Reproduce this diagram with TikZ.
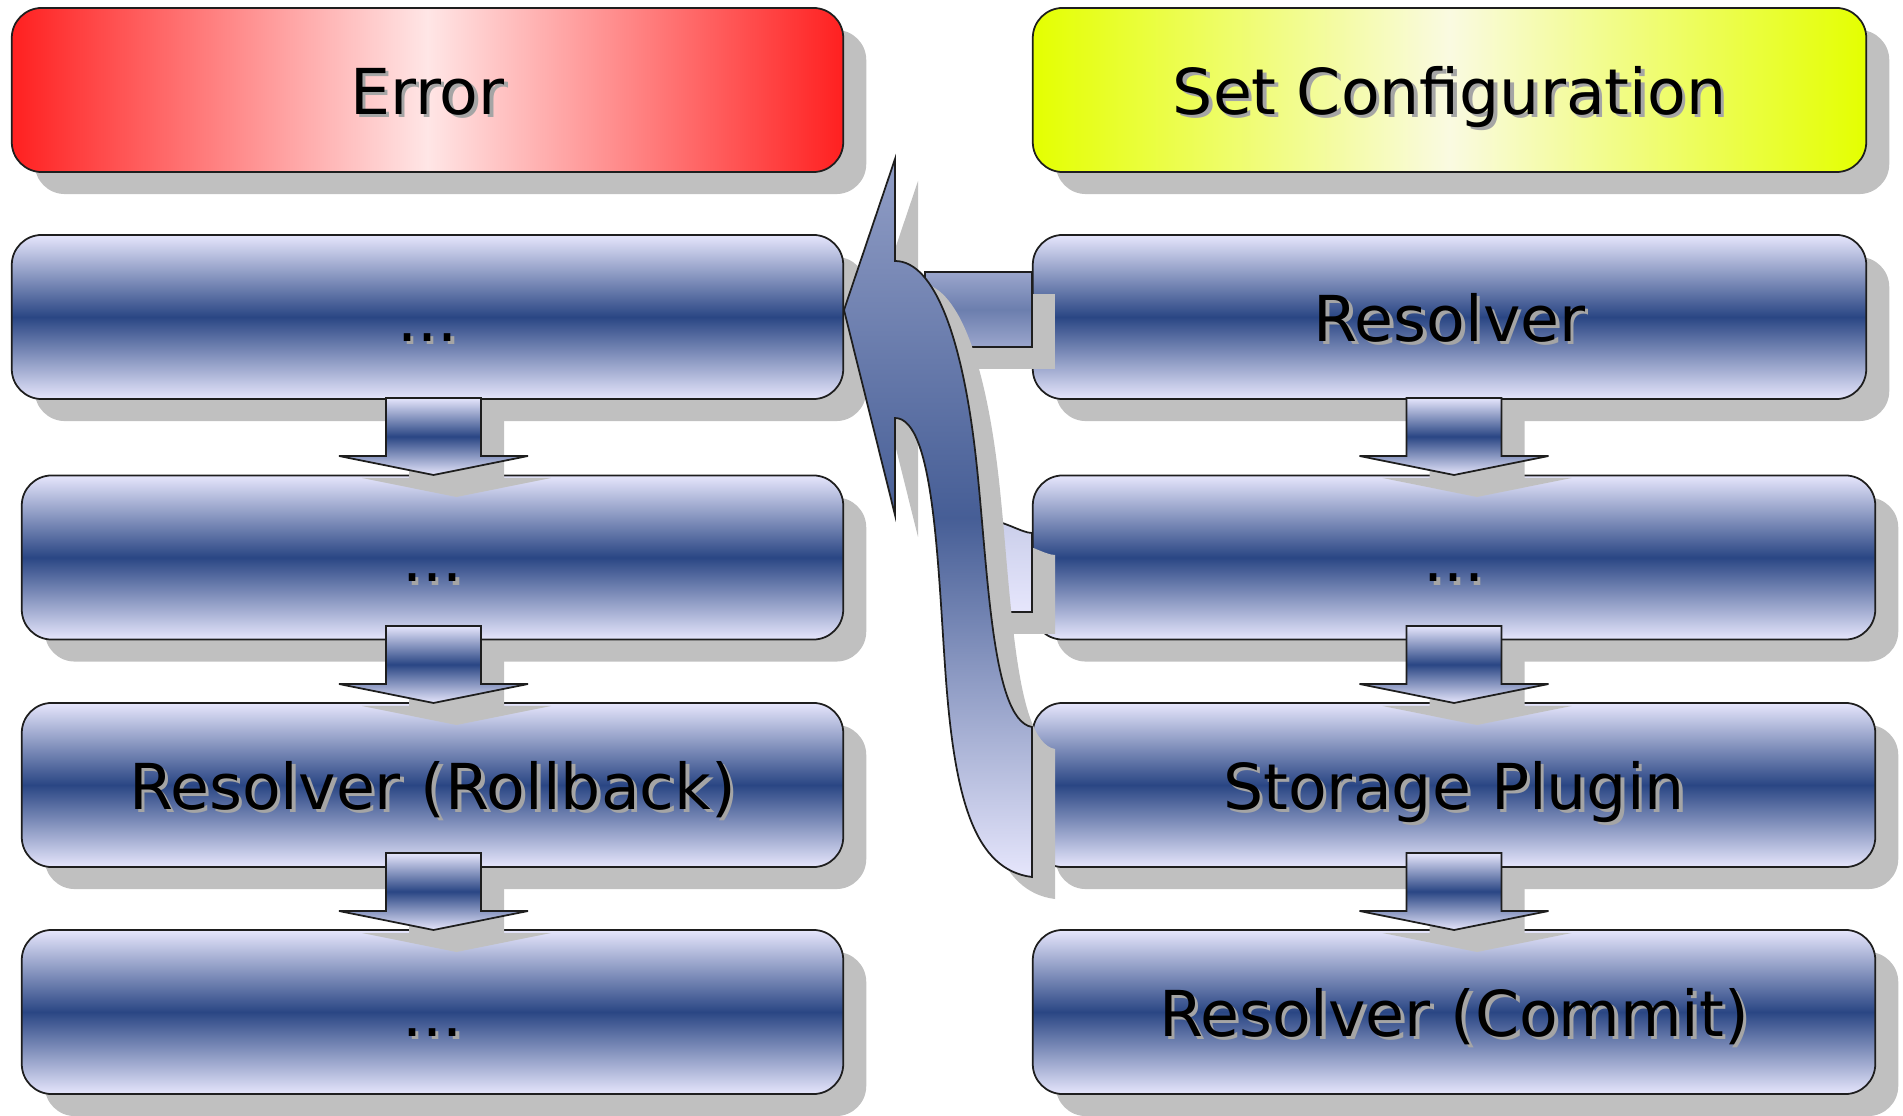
\documentclass[tikz,border=0pt]{standalone}
\usepackage{fontspec}
\setmainfont{DejaVu Sans}
\usetikzlibrary{shadows}

\definecolor{boxlight}{RGB}{230,230,252}
\definecolor{boxdark}{RGB}{42,70,132}
\definecolor{errred}{RGB}{255,32,32}
\definecolor{errpale}{RGB}{255,230,230}
\definecolor{cfgyellow}{RGB}{228,255,0}
\definecolor{cfgpale}{RGB}{250,250,225}
\definecolor{shadowgray}{RGB}{192,192,192}
\definecolor{textgray}{RGB}{165,165,165}
\definecolor{edgegray}{RGB}{30,30,30}

\newcommand{\txtsh}[1]{\makebox[0pt][l]{\kern1pt\raisebox{-1pt}{\color{textgray}#1}}#1}
\newcommand{\bigarrowpath}{(844,310) -- (895,159) -- (895,261)
  .. controls (935,261) and (962,340) .. (975,450)
  .. controls (988,560) and (990,720) .. (1032,727) -- (1032,877)
  .. controls (975,870) and (955,800) .. (946,680)
  .. controls (938,573) and (935,418) .. (895,418) -- (895,515) -- cycle}

\tikzset{
  box/.style={rounded corners=0.3cm, draw=edgegray, line width=0.5pt, inner sep=0pt,
    minimum height=1.64cm, font=\fontsize{18}{22}\selectfont, text height=0.56cm, text depth=0.08cm,
    drop shadow={shadow xshift=0.23cm, shadow yshift=-0.22cm, opacity=1, fill=shadowgray}},
  bluebox/.style={box, top color=boxlight, bottom color=boxlight, middle color=boxdark},
  errbox/.style={box, left color=errred, right color=errred, middle color=errpale},
  cfgbox/.style={box, left color=cfgyellow, right color=cfgyellow, middle color=cfgpale},
  blockarrow/.style={draw=edgegray, line width=0.5pt, top color=boxlight, bottom color=boxlight, middle color=boxdark},
  arrowshadow/.style={fill=shadowgray, shift={(23,22)}}
}

\begin{document}
\begin{tikzpicture}[x=0.01cm, y=-0.01cm]
\useasboundingbox (0,0) rectangle (1903,1116);

%Left column
\node[errbox, minimum width=8.31cm] (Err) at (427.5,90) {\txtsh{Error}};
\node[bluebox, minimum width=8.31cm] (L1) at (427.5,317) {\txtsh{...}};
\node[bluebox, minimum width=8.21cm] (L2) at (432.5,557.5) {\txtsh{...}};
\node[bluebox, minimum width=8.21cm] (Rb) at (432.5,785) {\txtsh{Resolver (Rollback)}};
\node[bluebox, minimum width=8.21cm] (L4) at (432.5,1012) {\txtsh{...}};

%Right column
\node[cfgbox, minimum width=8.33cm] (Set) at (1449.5,90) {\txtsh{Set Configuration}};
\node[bluebox, minimum width=8.33cm] (Res) at (1449.5,317) {\txtsh{Resolver}};
\node[bluebox, minimum width=8.42cm] (R2) at (1454,557.5) {\txtsh{...}};
\node[bluebox, minimum width=8.42cm] (Sp) at (1454,785) {\txtsh{Storage Plugin}};
\node[bluebox, minimum width=8.42cm] (Com) at (1454,1012) {\txtsh{Resolver (Commit)}};

%Down arrows
\foreach \cx in {433.5,1454}
  \foreach \ty in {475,703,930}{
    \fill[arrowshadow] ({\cx-47.5},{\ty-77}) -- ({\cx+47.5},{\ty-77}) -- ({\cx+47.5},{\ty-19})
      -- ({\cx+94.5},{\ty-19}) -- (\cx,\ty) -- ({\cx-94.5},{\ty-19}) -- ({\cx-47.5},{\ty-19}) -- cycle;
    \path[blockarrow] ({\cx-47.5},{\ty-77}) -- ({\cx+47.5},{\ty-77}) -- ({\cx+47.5},{\ty-19})
      -- ({\cx+94.5},{\ty-19}) -- (\cx,\ty) -- ({\cx-94.5},{\ty-19}) -- ({\cx-47.5},{\ty-19}) -- cycle;
  }

%Stubs behind the big arrow
\fill[arrowshadow] (925,272) rectangle (1032,347);
\path[draw=edgegray, line width=0.5pt, top color=boxlight!60!boxdark, bottom color=boxlight!60!boxdark,
  middle color=boxdark!65!boxlight] (925,272) rectangle (1032,347);
\fill[arrowshadow] (985,519) .. controls (1005,521) and (1022,533) .. (1032,533) -- (1032,612) -- (985,612) -- cycle;
\path[draw=edgegray, line width=0.5pt, top color=boxlight!85!boxdark, bottom color=boxlight]
  (985,519) .. controls (1005,521) and (1022,533) .. (1032,533) -- (1032,612) -- (985,612) -- cycle;

%Big arrow back to the left column
\fill[arrowshadow] \bigarrowpath;
\path[draw=edgegray, line width=0.5pt, top color=boxlight!55!boxdark, bottom color=boxlight,
  middle color=boxdark!85!boxlight] \bigarrowpath;

\end{tikzpicture}
\end{document}
